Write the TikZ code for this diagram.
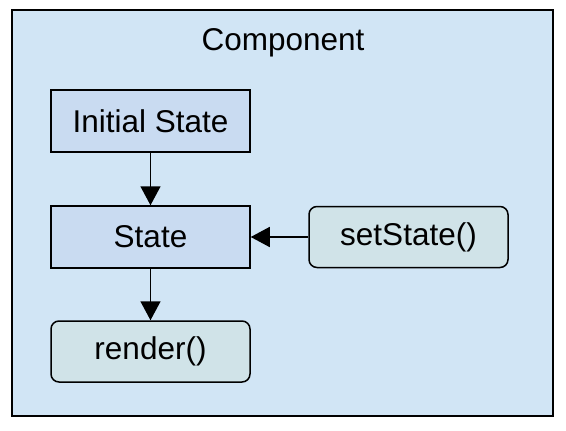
\documentclass[tikz,border=0pt]{standalone}
\usepackage{fontspec}
\setmainfont{Liberation Sans}
\usetikzlibrary{arrows.meta}
\definecolor{outerfill}{HTML}{D1E5F5}
\definecolor{rectfill}{HTML}{C9DBF1}
\definecolor{roundfill}{HTML}{D0E3E8}
\tikzset{
  x=1pt,y=-1pt,
  outerbox/.style={draw=black,line width=1.5pt,fill=outerfill},
  rectbox/.style={draw=black,line width=1.5pt,fill=rectfill,minimum width=199pt,minimum height=62pt,inner sep=0pt,font=\fontsize{31.5}{34}\selectfont},
  roundbox/.style={rectbox,fill=roundfill,rounded corners=8pt,minimum height=61pt},
  conn/.style={line width=1.5pt,-{Triangle[length=19pt,width=20pt]}},
  titletext/.style={font=\fontsize{31.5}{34}\selectfont,inner sep=0pt}
}
\begin{document}
\begin{tikzpicture}
\useasboundingbox (0,0) rectangle (566,431);
\draw[outerbox] (12,10) rectangle (553,416);
\node[titletext] (title) at (283,43) {Component};
\node[rectbox] (init) at (150.5,121) {Initial State};
\node[rectbox] (state) at (150.5,237) {State};
\node[roundbox] (render) at (150.5,351.5) {render()};
\node[roundbox] (set) at (408.5,237) {setState()};
\draw[conn] (init.south) -- (state.north);
\draw[conn] (state.south) -- (render.north);
\draw[conn] (set.west) -- (state.east);
\end{tikzpicture}
\end{document}
